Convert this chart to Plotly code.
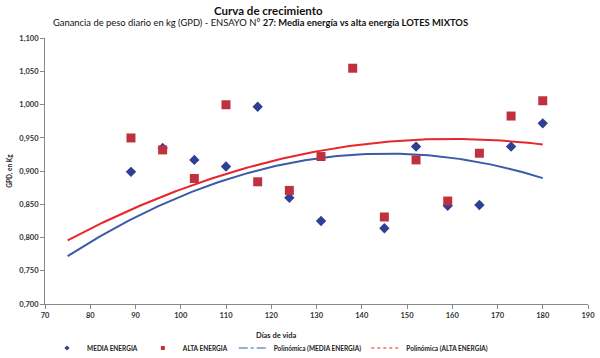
import numpy as np
import plotly.graph_objects as go

x_media = [89, 96, 103, 110, 117, 124, 131, 145, 152, 159, 166, 173, 180]
y_media = [0.899, 0.935, 0.917, 0.907, 0.997, 0.860, 0.825, 0.814, 0.937, 0.848, 0.849, 0.937, 0.972]
x_alta = [89, 96, 103, 110, 117, 124, 131, 138, 145, 152, 159, 166, 173, 180]
y_alta = [0.950, 0.932, 0.889, 1.000, 0.884, 0.871, 0.922, 1.055, 0.831, 0.917, 0.855, 0.927, 0.983, 1.006]
y_ticks = [0.700, 0.750, 0.800, 0.850, 0.900, 0.950, 1.000, 1.050, 1.100]
x_ticks = list(range(70, 191, 10))

# Polynomial (order 2) trendlines
trend_media_x = [75, 126.4, 141.1, 180]
trend_media_y = [0.772, 0.915, 0.926, 0.8895]
trend_alta_x = [75, 126.4, 155.8, 180]
trend_alta_y = [0.796, 0.9246, 0.9486, 0.940]

tx = np.linspace(75, 180, 200)
c_media = np.polyfit(trend_media_x, trend_media_y, 2)
c_alta = np.polyfit(trend_alta_x, trend_alta_y, 2)

BLUE_M = "#2E3F94"
RED_M = "#C0313F"
BLUE_L = "#3B5BA9"
RED_L = "#E8262B"
FONT = "Lato"

fig = go.Figure()
fig.add_trace(go.Scatter(x=tx, y=np.polyval(c_media, tx), mode="lines",
                         line=dict(color=BLUE_L, width=2), showlegend=False, hoverinfo="skip"))
fig.add_trace(go.Scatter(x=tx, y=np.polyval(c_alta, tx), mode="lines",
                         line=dict(color=RED_L, width=2), showlegend=False, hoverinfo="skip"))
fig.add_trace(go.Scatter(x=x_media, y=y_media, mode="markers", showlegend=False,
                         marker=dict(symbol="diamond", size=8, color=BLUE_M)))
fig.add_trace(go.Scatter(x=x_alta, y=y_alta, mode="markers", showlegend=False,
                         marker=dict(symbol="square", size=9, color=RED_M)))
# legend entries (small symbols as in the reference)
fig.add_trace(go.Scatter(x=[None], y=[None], mode="markers", name="<b>MEDIA ENERGIA</b>",
                         marker=dict(symbol="diamond", size=4, color=BLUE_M)))
fig.add_trace(go.Scatter(x=[None], y=[None], mode="markers", name="<b>ALTA ENERGIA</b>",
                         marker=dict(symbol="square", size=4, color=RED_M)))
fig.add_trace(go.Scatter(x=[None], y=[None], mode="lines", name="<b>Polinómica (MEDIA ENERGIA)</b>",
                         line=dict(color=BLUE_L, width=1, dash="dashdot")))
fig.add_trace(go.Scatter(x=[None], y=[None], mode="lines", name="<b>Polinómica (ALTA ENERGIA)</b>",
                         line=dict(color=RED_L, width=1, dash="dot")))

fig.update_layout(
    width=600, height=358,
    margin=dict(l=45, r=12, t=38, b=54, autoexpand=False),
    paper_bgcolor="white", plot_bgcolor="white",
    font=dict(family=FONT, size=9, color="#222"),
    showlegend=True,
    legend=dict(orientation="h", x=270 / 600, xref="container", xanchor="center",
                y=1 - 348 / 358, yref="container", yanchor="middle",
                font=dict(family=FONT, size=6.5, color="#222"),
                itemwidth=30, traceorder="normal", bgcolor="rgba(0,0,0,0)"),
    xaxis=dict(range=[70, 190], tickvals=x_ticks, ticktext=[f"<b>{v}</b>" for v in x_ticks],
               ticks="outside", ticklen=4,
               tickcolor="#888", showline=True, linecolor="#888", linewidth=1,
               showgrid=False, zeroline=False,
               tickfont=dict(family=FONT, size=7.5, color="#333")),
    yaxis=dict(range=[0.700, 1.1005], tickvals=y_ticks,
               ticktext=["<b>" + f"{v:.3f}".replace(".", ",") + "</b>" for v in y_ticks],
               ticks="outside", ticklen=4, tickcolor="#888", showline=True,
               linecolor="#888", linewidth=1, showgrid=False, zeroline=False,
               tickfont=dict(family=FONT, size=7.5, color="#333"),
               title=dict(text="<b>GPD, en Kg</b>", font=dict(family=FONT, size=6.5), standoff=6)),
)
fig.add_annotation(text="<b>Curva de crecimiento</b>", xref="paper", yref="paper",
                   x=(268 - 45) / 543, y=1 + (38 - 10) / 266, xanchor="center", yanchor="middle",
                   showarrow=False, font=dict(family=FONT, size=11.5, color="#111"))
fig.add_annotation(text="Ganancia de peso diario en kg (GPD) - ENSAYO N° <b>27: Media energía vs alta energía LOTES MIXTOS</b>",
                   xref="paper", yref="paper",
                   x=(260 - 45) / 543, y=1 + (38 - 23) / 266, xanchor="center", yanchor="middle",
                   showarrow=False, font=dict(family=FONT, size=9.4, color="#111"))
fig.add_annotation(text="<b>Días de vida</b>", xref="paper", yref="paper",
                   x=(276 - 45) / 543, y=-(335 - 304) / 266, xanchor="center", yanchor="middle",
                   showarrow=False, font=dict(family=FONT, size=7.5, color="#222"))
fig.write_html("out.html", config={"displayModeBar": False},
               post_script="document.body.style.margin='0';")
